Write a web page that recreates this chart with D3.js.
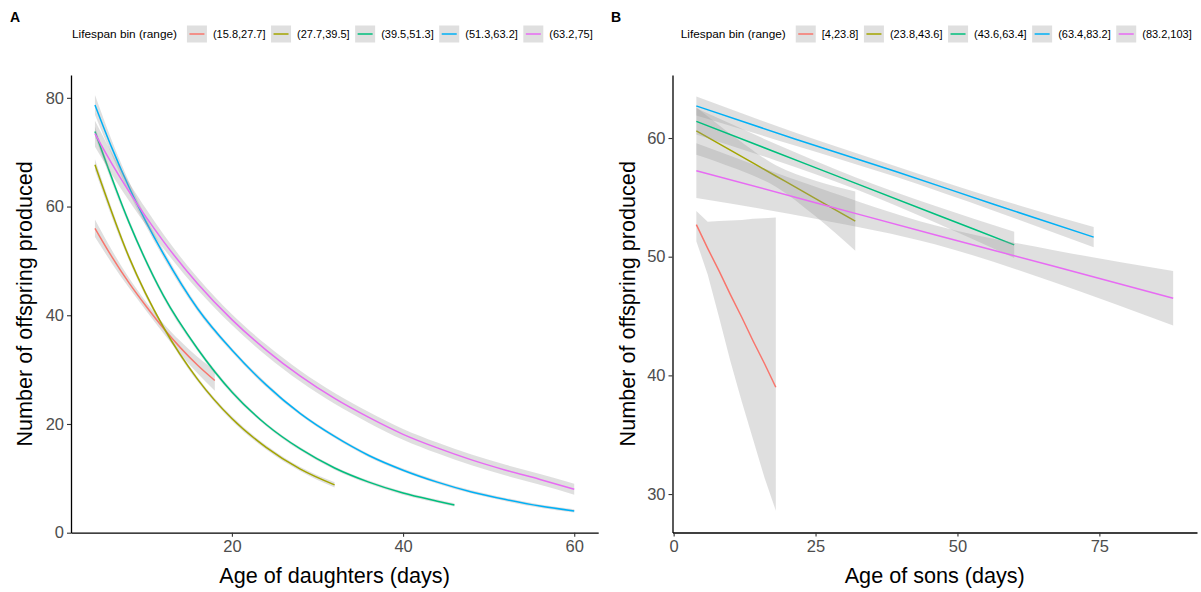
<!DOCTYPE html>
<html><head><meta charset="utf-8">
<script src="https://cdn.jsdelivr.net/npm/d3@7"></script>
<style>
body{margin:0;background:#fff}
svg{display:block}
text{font-family:"Liberation Sans", Arial, sans-serif}
</style>
</head><body>
<svg id="chart" width="1201" height="592"></svg>
<script>
// ---------- shared ----------
const binColors = ["#F8766D", "#A3A500", "#00BF7D", "#00B0F6", "#E76BF3"];
const legendTitle = "Lifespan bin (range)";

// ---------- Panel A : daughters ----------
const binsA = ["(15.8,27.7]", "(27.7,39.5]", "(39.5,51.3]", "(51.3,63.2]", "(63.2,75]"];
const xTicksA = [20, 40, 60];
const yTicksA = [0, 20, 40, 60, 80];

const dRedAge = [4, 6, 8, 10, 12, 14, 16, 18];
const dRedFit = [56.0, 50.7, 45.9, 41.6, 37.6, 34.0, 30.8, 28.0];
const dRedLo  = [54.4, 49.5, 45.0, 40.8, 36.7, 32.8, 29.3, 26.1];
const dRedHi  = [57.6, 51.9, 46.8, 42.4, 38.5, 35.2, 32.3, 29.9];

const dOliveAge = [4, 8, 12, 16, 20, 24, 28, 32];
const dOliveFit = [67.7, 50.6, 37.8, 28.2, 21.0, 15.7, 11.7, 8.8];
const dOliveLo  = [66.7, 50.0, 37.4, 27.8, 20.6, 15.3, 11.3, 8.3];
const dOliveHi  = [68.7, 51.2, 38.2, 28.6, 21.4, 16.1, 12.1, 9.3];

const dGreenAge = [4, 8, 12, 16, 20, 24, 28, 32, 36, 40, 44, 46];
const dGreenFit = [73.8, 57.0, 43.6, 33.8, 25.9, 19.9, 15.4, 11.9, 9.3, 7.3, 5.8, 5.1];
const dGreenLo  = [72.9, 56.4, 43.1, 33.4, 25.5, 19.6, 15.1, 11.6, 9.0, 7.0, 5.5, 4.8];
const dGreenHi  = [74.7, 57.6, 44.1, 34.2, 26.3, 20.2, 15.7, 12.2, 9.6, 7.6, 6.1, 5.4];

const dBlueAge = [4, 6, 8, 10, 12, 16, 20, 24, 28, 32, 36, 40, 44, 48, 52, 56, 60];
const dBlueFit = [78.7, 70.7, 63.5, 57.1, 51.3, 41.2, 33.6, 27.2, 21.9, 17.7, 14.2, 11.5, 9.3, 7.5, 6.1, 4.9, 4.0];
const dBlueLo  = [76.9, 69.4, 62.5, 56.3, 50.6, 40.7, 33.2, 26.8, 21.6, 17.4, 13.9, 11.2, 9.0, 7.2, 5.8, 4.6, 3.7];
const dBlueHi  = [80.5, 72.0, 64.5, 57.9, 52.0, 41.7, 34.0, 27.6, 22.2, 18.0, 14.5, 11.8, 9.6, 7.8, 6.4, 5.2, 4.3];

const dPinkAge = [4, 6, 8, 10, 12, 16, 20, 24, 28, 32, 36, 40, 44, 48, 52, 56, 60];
const dPinkFit = [73.4, 67.8, 62.7, 58.0, 53.6, 45.8, 39.2, 33.6, 28.8, 24.7, 21.2, 18.1, 15.6, 13.4, 11.5, 9.8, 8.0];
const dPinkLo  = [71.0, 65.8, 61.0, 56.5, 52.3, 44.7, 38.2, 32.6, 27.8, 23.7, 20.2, 17.1, 14.6, 12.4, 10.5, 8.8, 7.0];
const dPinkHi  = [75.8, 69.8, 64.4, 59.5, 54.9, 46.9, 40.2, 34.6, 29.8, 25.7, 22.2, 19.1, 16.6, 14.4, 12.5, 10.8, 9.0];

// ---------- Panel B : sons ----------
const binsB = ["[4,23.8]", "(23.8,43.6]", "(43.6,63.4]", "(63.4,83.2]", "(83.2,103]"];
const xTicksB = [0, 25, 50, 75];
const yTicksB = [30, 40, 50, 60];

const sRedAge = [4, 6, 8, 10, 12, 14, 16, 18];
const sRedFit = [52.7, 50.7, 48.8, 46.8, 44.9, 42.9, 41.0, 39.0];
const sRedLo  = [51.3, 48.5, 44.9, 41.2, 37.8, 34.6, 31.4, 28.6];
const sRedHi  = [53.85, 52.95, 53.0, 53.05, 53.1, 53.2, 53.25, 53.3];

const sOliveAge = [4, 11, 18, 25, 32];
const sOliveFit = [60.6, 58.7, 56.8, 54.9, 53.0];
const sOliveLo  = [58.6, 57.4, 55.9, 53.4, 50.5];
const sOliveHi  = [62.6, 60.0, 57.7, 56.4, 55.5];

const sGreenAge = [4, 18, 32, 46, 60];
const sGreenFit = [61.4, 58.8, 56.2, 53.6, 51.0];
const sGreenLo  = [60.3, 58.1, 55.7, 52.9, 49.9];
const sGreenHi  = [62.5, 59.5, 56.7, 54.3, 52.1];

const sBlueAge = [4, 21.5, 39, 56.5, 74];
const sBlueFit = [62.7, 59.9, 57.2, 54.4, 51.65];
const sBlueLo  = [61.9, 59.35, 56.75, 53.85, 50.8];
const sBlueHi  = [63.5, 60.45, 57.65, 54.95, 52.5];

const sPinkAge = [4, 25, 46, 67, 88];
const sPinkFit = [57.25, 54.55, 51.85, 49.2, 46.5];
const sPinkLo  = [54.95, 53.2, 51.05, 47.85, 44.2];
const sPinkHi  = [59.55, 55.9, 52.65, 50.55, 48.8];

// ---------- build ----------
function series(ages, fit, lo, hi) {
  return ages.map((a, i) => ({x: a, y: fit[i], lo: lo[i], hi: hi[i]}));
}
const panelAData = [
  series(dRedAge, dRedFit, dRedLo, dRedHi),
  series(dOliveAge, dOliveFit, dOliveLo, dOliveHi),
  series(dGreenAge, dGreenFit, dGreenLo, dGreenHi),
  series(dBlueAge, dBlueFit, dBlueLo, dBlueHi),
  series(dPinkAge, dPinkFit, dPinkLo, dPinkHi)
];
const panelBData = [
  series(sRedAge, sRedFit, sRedLo, sRedHi),
  series(sOliveAge, sOliveFit, sOliveLo, sOliveHi),
  series(sGreenAge, sGreenFit, sGreenLo, sGreenHi),
  series(sBlueAge, sBlueFit, sBlueLo, sBlueHi),
  series(sPinkAge, sPinkFit, sPinkLo, sPinkHi)
];

const svg = d3.select("#chart");
const FONT = '"Liberation Sans", Arial, sans-serif';

function drawPanel(cfg) {
  const {left, right, top, bottom, xDomain, yDomain, xTicks, yTicks, data, bins,
         tag, tagX, legendX, xTitle, yTitleX, curve0} = cfg;
  const x = d3.scaleLinear().domain(xDomain).range([left, right]);
  const y = d3.scaleLinear().domain(yDomain).range([bottom, top]);
  const g = svg.append("g");

  const clipId = "clip" + tag;
  svg.append("clipPath").attr("id", clipId)
    .append("rect").attr("x", left).attr("y", top)
    .attr("width", right - left).attr("height", bottom - top);
  const plot = g.append("g").attr("clip-path", `url(#${clipId})`);

  data.forEach((s, i) => {
    const cv = (i === 0 && curve0) ? curve0 : d3.curveMonotoneX;
    const area = d3.area().x(d => x(d.x)).y0(d => y(d.lo)).y1(d => y(d.hi)).curve(cv);
    const line = d3.line().x(d => x(d.x)).y(d => y(d.y)).curve(cv);
    plot.append("path").attr("d", area(s))
      .attr("fill", "#999999").attr("fill-opacity", 0.31).attr("stroke", "none");
    plot.append("path").attr("d", line(s))
      .attr("fill", "none").attr("stroke", binColors[i]).attr("stroke-width", 1.5);
  });

  // axes
  const ax = g.append("g").attr("transform", `translate(0,${bottom})`)
    .call(d3.axisBottom(x).tickValues(xTicks).tickSize(4).tickSizeOuter(0).tickPadding(4));
  const ay = g.append("g").attr("transform", `translate(${left},0)`)
    .call(d3.axisLeft(y).tickValues(yTicks).tickSize(4).tickSizeOuter(0).tickPadding(3));
  [ax, ay].forEach(a => {
    a.select(".domain").attr("stroke", "#000").attr("stroke-width", 1.3);
    a.selectAll(".tick line").attr("stroke", "#333").attr("stroke-width", 1.1);
    a.selectAll(".tick text").attr("fill", "#4D4D4D")
      .style("font-family", FONT).style("font-size", "16.5px");
  });

  // titles
  g.append("text").attr("x", (left + right) / 2).attr("y", 583)
    .attr("text-anchor", "middle").style("font-size", "21.6px").attr("fill", "#000")
    .text(xTitle);
  g.append("text").attr("transform", `translate(${yTitleX},${(top + bottom) / 2}) rotate(-90)`)
    .attr("text-anchor", "middle").style("font-size", "21.6px").attr("fill", "#000")
    .text("Number of offspring produced");

  // tag
  g.append("text").attr("x", tagX).attr("y", 22).style("font-size", "14px")
    .style("font-weight", "bold").text(tag);

  // legend
  const lg = g.append("g");
  const cy = 34;
  const t = lg.append("text").attr("x", legendX).attr("y", cy + 4)
    .style("font-size", "11.8px").attr("fill", "#000").text(legendTitle);
  let cx = legendX + t.node().getComputedTextLength() + 10;
  bins.forEach((b, i) => {
    lg.append("rect").attr("x", cx).attr("y", cy - 8.5).attr("width", 20).attr("height", 17)
      .attr("fill", "#999999").attr("fill-opacity", 0.31);
    lg.append("line").attr("x1", cx + 2.5).attr("x2", cx + 17.5).attr("y1", cy).attr("y2", cy)
      .attr("stroke", binColors[i]).attr("stroke-width", 1.5);
    const lt = lg.append("text").attr("x", cx + 26).attr("y", cy + 4)
      .style("font-size", "11px").attr("fill", "#000").text(b);
    cx = cx + 26 + lt.node().getComputedTextLength() + 5.5;
  });
}

drawPanel({
  left: 71, right: 598.2, top: 75, bottom: 532.7,
  xDomain: [1.2, 62.8], yDomain: [0, 84.2],
  xTicks: xTicksA, yTicks: yTicksA, data: panelAData, bins: binsA,
  tag: "A", tagX: 10, legendX: 72,
  xTitle: "Age of daughters (days)", yTitleX: 31.5
});
drawPanel({
  left: 672.5, right: 1197, top: 75, bottom: 532.5,
  xDomain: [-0.2, 92.2], yDomain: [26.76, 65.31],
  xTicks: xTicksB, yTicks: yTicksB, data: panelBData, bins: binsB,
  tag: "B", tagX: 611, legendX: 680.8,
  xTitle: "Age of sons (days)", yTitleX: 634.5, curve0: d3.curveLinear
});
</script>
</body></html>
